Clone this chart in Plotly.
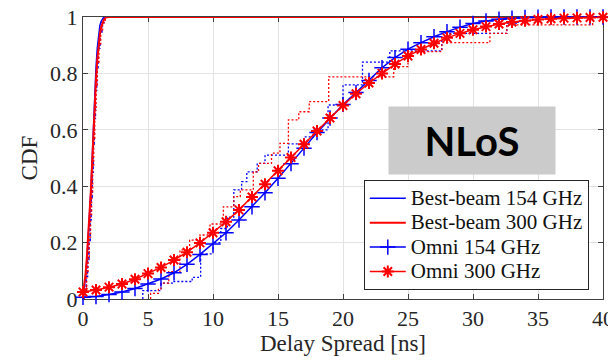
import plotly.graph_objects as go

# ---------------- data ----------------
# Fitted CDFs
bb_x = [0, 0.1, 0.2, 0.3, 0.4, 0.5, 0.6, 0.7, 0.8, 0.9, 1.0, 1.1, 1.2, 1.3, 1.4, 1.5, 1.6, 1.7, 1.8, 2.0, 40]
bb154_y = [0.01, 0.04, 0.08, 0.14, 0.21, 0.29, 0.38, 0.49, 0.62, 0.73, 0.82, 0.89, 0.94, 0.97, 0.985, 0.995, 1.0, 1.0, 1.0, 1.0, 1.0]
bb300_y = [0.02, 0.05, 0.09, 0.15, 0.22, 0.30, 0.38, 0.48, 0.60, 0.70, 0.78, 0.85, 0.90, 0.94, 0.965, 0.98, 0.99, 0.996, 0.999, 1.0, 1.0]

omni_x = list(range(0, 41))
omni154_y = [0.006, 0.009, 0.016, 0.025, 0.037, 0.053, 0.071, 0.093, 0.123, 0.158,
             0.195, 0.235, 0.280, 0.327, 0.377, 0.428, 0.480, 0.535, 0.590, 0.642,
             0.690, 0.732, 0.775, 0.820, 0.856, 0.886, 0.909, 0.930, 0.948, 0.964,
             0.977, 0.986, 0.992, 0.996, 0.998, 0.999, 1.0, 1.0, 1.0, 1.0, 1.0]
omni300_y = [0.025, 0.032, 0.042, 0.053, 0.070, 0.090, 0.112, 0.138, 0.166, 0.199,
             0.235, 0.274, 0.316, 0.362, 0.407, 0.455, 0.502, 0.549, 0.596, 0.642,
             0.686, 0.728, 0.766, 0.800, 0.833, 0.862, 0.885, 0.907, 0.926, 0.942,
             0.955, 0.966, 0.975, 0.982, 0.987, 0.991, 0.994, 0.996, 0.997, 0.998, 0.999]

# Measured (empirical, step) CDFs
meas_bb154_x = [0.0, 0.05, 0.25, 0.35, 0.45, 0.55, 0.62, 0.70, 0.78, 0.85, 0.95, 1.05, 1.15, 1.30, 1.45, 1.60, 40]
meas_bb154_y = [0.0, 0.02, 0.08, 0.14, 0.20, 0.28, 0.36, 0.45, 0.55, 0.64, 0.74, 0.82, 0.89, 0.94, 0.98, 1.0, 1.0]
meas_bb300_x = [0.0, 0.08, 0.28, 0.38, 0.48, 0.58, 0.66, 0.74, 0.82, 0.90, 1.00, 1.10, 1.22, 1.36, 1.50, 1.70, 40]
meas_bb300_y = [0.0, 0.03, 0.09, 0.15, 0.22, 0.30, 0.38, 0.47, 0.57, 0.67, 0.76, 0.84, 0.90, 0.95, 0.98, 1.0, 1.0]

meas_omni154_x = [4.6, 4.6, 6.0, 7.0, 8.4, 9.05, 10.0, 10.6, 11.1, 11.6, 12.2, 12.6, 13.4, 14.0,
                  15.8, 17.0, 17.7, 18.85, 20.0, 21.5, 23.6, 27.6, 32.6, 33.5, 40]
meas_omni154_y = [0.0, 0.03, 0.056, 0.062, 0.077, 0.16, 0.20, 0.25, 0.29, 0.387, 0.416, 0.451, 0.481, 0.51,
                  0.55, 0.575, 0.60, 0.688, 0.759, 0.84, 0.88, 0.942, 0.978, 1.0, 1.0]
meas_omni300_x = [5.2, 5.2, 5.8, 6.0, 6.6, 7.46, 8.2, 9.0, 9.77, 10.8, 11.6, 12.1, 13.1, 13.5, 14.5,
                  15.15, 15.8, 16.6, 17.4, 18.9, 23.9, 25.0, 27.6, 31.3, 32.6, 39.2, 40]
meas_omni300_y = [0.0, 0.02, 0.034, 0.056, 0.097, 0.174, 0.209, 0.227, 0.266, 0.327, 0.363, 0.387, 0.451, 0.481, 0.517,
                  0.552, 0.635, 0.664, 0.70, 0.788, 0.824, 0.877, 0.909, 0.942, 0.972, 1.0, 1.0]

x_ticks = [0, 5, 10, 15, 20, 25, 30, 35, 40]
y_ticks = [0, 0.2, 0.4, 0.6, 0.8, 1]
y_ticktext = ["0", "0.2", "0.4", "0.6", "0.8", "1"]

legend_names = ["Best-beam 154 GHz", "Best-beam 300 GHz", "Omni 154 GHz", "Omni 300 GHz"]

BLUE = "#0000ff"
RED = "#ff0000"
SERIF = "Liberation Serif, Times New Roman, serif"
DOT = "2px,2px"


def lname(s):
    return '<span style="font-size:21px">' + s + "</span>"


fig = go.Figure()

# measured step curves (dotted)
fig.add_trace(go.Scatter(x=meas_omni154_x, y=meas_omni154_y, mode="lines", line_shape="hv",
                         line=dict(color=BLUE, width=1.3, dash=DOT), showlegend=False, hoverinfo="skip"))
fig.add_trace(go.Scatter(x=meas_omni300_x, y=meas_omni300_y, mode="lines", line_shape="hv",
                         line=dict(color=RED, width=1.3, dash=DOT), showlegend=False, hoverinfo="skip"))
fig.add_trace(go.Scatter(x=meas_bb154_x, y=meas_bb154_y, mode="lines", line_shape="hv",
                         line=dict(color=BLUE, width=1.6, dash="3px,2px"), showlegend=False, hoverinfo="skip"))

# fitted curves
fig.add_trace(go.Scatter(x=bb_x, y=bb154_y, mode="lines", name=lname(legend_names[0]),
                         line=dict(color=BLUE, width=1.5)))
fig.add_trace(go.Scatter(x=bb_x, y=bb300_y, mode="lines", name=lname(legend_names[1]),
                         line=dict(color=RED, width=2)))
fig.add_trace(go.Scatter(x=meas_bb300_x, y=meas_bb300_y, mode="lines", line_shape="hv",
                         line=dict(color=RED, width=1.5, dash=DOT), showlegend=False, hoverinfo="skip"))
fig.add_trace(go.Scatter(x=omni_x, y=omni154_y, mode="lines+markers", name=lname(legend_names[2]),
                         line=dict(color=BLUE, width=1.5),
                         marker=dict(symbol="cross-thin-open", size=11, color=BLUE,
                                     line=dict(color=BLUE, width=1.5)), cliponaxis=False))
fig.add_trace(go.Scatter(x=omni_x, y=omni300_y, mode="lines+markers", name=lname(legend_names[3]),
                         line=dict(color=RED, width=1.5),
                         marker=dict(symbol="asterisk-open", size=10, color=RED,
                                     line=dict(color=RED, width=2)), cliponaxis=False))

axis_common = dict(
    showline=True, linecolor="#404040", linewidth=1, mirror="ticks",
    ticks="inside", ticklen=5, tickcolor="#404040", tickwidth=1,
    showgrid=True, gridcolor="#e3e3e3", gridwidth=1, zeroline=False,
    tickfont=dict(family=SERIF, size=22, color="#262626"),
    layer="below traces", ticklabeloverflow="allow", automargin=False,
)

fig.update_layout(
    width=608, height=360,
    margin=dict(l=83, r=5, t=17, b=61),
    paper_bgcolor="white", plot_bgcolor="white",
    xaxis=dict(range=[0, 40], tickvals=x_ticks, ticktext=[str(v) for v in x_ticks],
               title=dict(text="Delay Spread [ns]", font=dict(family=SERIF, size=23, color="#262626"), standoff=4),
               **axis_common),
    yaxis=dict(range=[0, 1], tickvals=y_ticks, ticktext=y_ticktext,
               title=dict(text="CDF", font=dict(family=SERIF, size=23, color="#262626"), standoff=6),
               **axis_common),
    legend=dict(x=0.540, y=0.422, xanchor="left", yanchor="top",
                bgcolor="white", bordercolor="#262626", borderwidth=1,
                font=dict(family=SERIF, size=16.5, color="#111111"),
                itemwidth=36, tracegroupgap=0),
    showlegend=True,
)

fig.add_annotation(
    xref="paper", yref="paper", x=0.748, y=0.562, xanchor="center", yanchor="middle",
    text="<b>NLoS</b>", showarrow=False,
    font=dict(family="Lato, Open Sans, sans-serif", size=40, color="black"),
    bgcolor="#cbcbcb", width=166, height=67, borderpad=0,
)

fig.write_html("out.html")
